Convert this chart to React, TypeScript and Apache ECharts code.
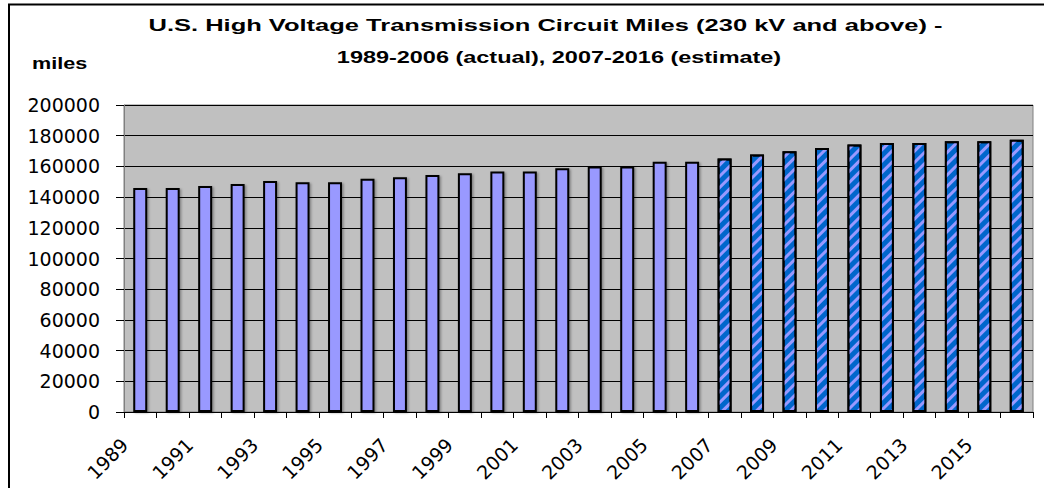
import React, { useEffect, useRef } from "react";
import * as echarts from "echarts";

const years = [
  "1989", "1990", "1991", "1992", "1993", "1994", "1995", "1996", "1997", "1998",
  "1999", "2000", "2001", "2002", "2003", "2004", "2005", "2006", "2007", "2008",
  "2009", "2010", "2011", "2012", "2013", "2014", "2015", "2016",
];
// 1989-2006 actual
const actualMiles = [
  146000, 146000, 147300, 148600, 150500, 149700, 149700, 152000, 153000, 154400,
  155500, 156600, 156600, 158800, 159900, 159900, 163000, 163000,
];
// 2007-2016 estimate
const estimateMiles = [
  165200, 167700, 169800, 172000, 174200, 175300, 175300, 176400, 176400, 177400,
];
const titleLine1 = "U.S. High Voltage Transmission Circuit Miles (230 kV and above) -";
const titleLine2 = "1989-2006 (actual), 2007-2016 (estimate)";
const unitLabel = "miles";
const yMin = 0;
const yMax = 200000;
const yStep = 20000;

export default function App() {
  const ref = useRef<HTMLDivElement>(null);
  useEffect(() => {
    if (!ref.current) return;
    const chart = echarts.init(ref.current, undefined, { renderer: "svg" });
    const actualData = years.map((_, i) => (i < actualMiles.length ? actualMiles[i] : null));
    const estimateData = years.map((_, i) =>
      i >= actualMiles.length ? estimateMiles[i - actualMiles.length] : null
    );
    const titleFont = {
      fontSize: 17,
      fontWeight: "bold",
      fontFamily: "'Liberation Sans', Arial, sans-serif",
      fill: "#000",
    };
    const labelFont = {
      fontSize: 19,
      fontFamily: "'DejaVu Sans', sans-serif",
      color: "#000",
    };
    chart.setOption({
      animation: false,
      backgroundColor: "#fff",
      grid: {
        left: 124,
        right: 11,
        top: 105,
        bottom: 76,
        show: true,
        backgroundColor: "#C0C0C0",
        borderColor: "#808080",
        borderWidth: 1,
      },
      graphic: [
        {
          type: "rect",
          shape: { x: 9, y: 4.5, width: 1200, height: 700 },
          style: { fill: "none", stroke: "#000", lineWidth: 2 },
          silent: true,
        },
        {
          type: "text",
          x: 545.5,
          y: 25,
          scaleX: 1.5,
          style: { ...titleFont, text: titleLine1, align: "center", verticalAlign: "middle" },
        },
        {
          type: "text",
          x: 559,
          y: 56.5,
          scaleX: 1.38,
          style: { ...titleFont, text: titleLine2, align: "center", verticalAlign: "middle" },
        },
        {
          type: "text",
          x: 32,
          y: 64,
          scaleX: 1.35,
          style: { ...titleFont, fontSize: 16, text: unitLabel, align: "left", verticalAlign: "middle" },
        },
      ],
      xAxis: {
        type: "category",
        data: years,
        boundaryGap: true,
        axisLine: { show: true, lineStyle: { color: "#000", width: 1 } },
        axisTick: { show: true, interval: 0, length: 6, lineStyle: { color: "#000" } },
        axisLabel: {
          interval: 1,
          rotate: 45,
          margin: 14,
          ...labelFont,
          formatter: (v: string) => `{a|${v}}`,
          rich: {
            a: { ...labelFont, padding: [0, 22, 0, 0] },
          },
        },
        splitLine: { show: false },
      },
      yAxis: {
        type: "value",
        min: yMin,
        max: yMax,
        interval: yStep,
        axisLine: { show: true, lineStyle: { color: "#808080", width: 1 } },
        axisTick: { show: true, length: 8, lineStyle: { color: "#000" } },
        axisLabel: {
          margin: 24,
          ...labelFont,
          formatter: (v: number) => String(v),
        },
        splitLine: { show: true, lineStyle: { color: "#000", width: 1 } },
      },
      series: [
        {
          name: "Actual",
          type: "bar",
          data: actualData,
          barWidth: "43%",
          barGap: "-100%",
          itemStyle: {
            color: "#9999FF",
            borderColor: "#000",
            borderWidth: 2,
            shadowColor: "rgba(0,0,0,0.35)",
            shadowBlur: 2,
            shadowOffsetX: 1.5,
            shadowOffsetY: 1,
          },
        },
        {
          name: "Estimate",
          type: "bar",
          data: estimateData,
          barWidth: "43%",
          barGap: "-100%",
          itemStyle: {
            color: "#0066CC",
            borderColor: "#000",
            borderWidth: 2,
            decal: {
              symbol: "rect",
              symbolSize: 1,
              color: "#9999FF",
              dashArrayX: [1, 0],
              dashArrayY: [3, 5],
              rotation: -Math.PI / 4,
            },
          },
        },
      ],
    });
    return () => chart.dispose();
  }, []);
  return (
    <div
      ref={ref}
      style={{ position: "fixed", left: 0, top: 0, width: 1044, height: 488, background: "#fff" }}
    />
  );
}
